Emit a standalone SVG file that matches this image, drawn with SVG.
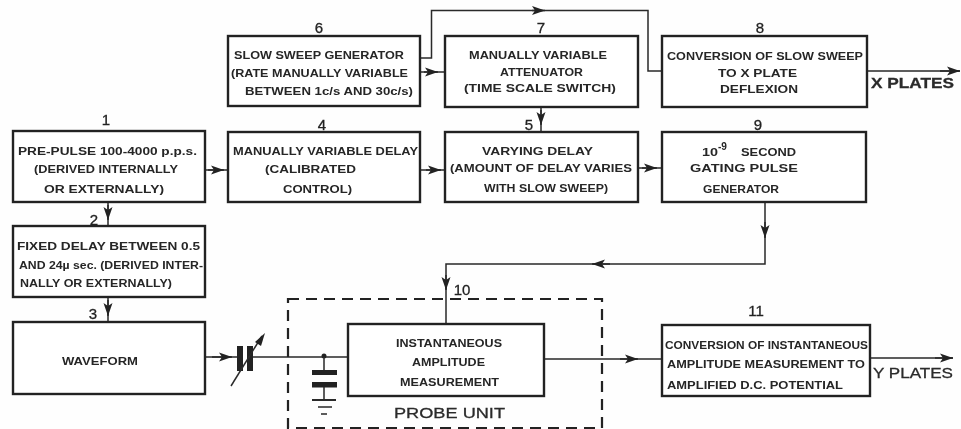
<svg xmlns="http://www.w3.org/2000/svg" width="961" height="429" viewBox="0 0 961 429">
<style>
.b{fill:#fff;stroke:#222;stroke-width:2.4}
.c{fill:none;stroke:#2a2a2a;stroke-width:1.5}
.a{marker-end:url(#ah)}
.t{font-family:"Liberation Sans",Arial,sans-serif;font-weight:700;font-size:11px;fill:#262626}
.n{font-family:"Liberation Sans",Arial,sans-serif;font-weight:400;font-size:15px;fill:#222;stroke:#222;stroke-width:.3;text-anchor:middle}
.l{font-family:"Liberation Sans",Arial,sans-serif;font-size:15.500px;fill:#2a2a2a;stroke:#2a2a2a;stroke-width:.3}
</style>
<defs>
<marker id="ah" markerUnits="userSpaceOnUse" markerWidth="15" markerHeight="10" refX="13" refY="5" orient="auto">
<path d="M0,0.5 L13,5 L0,9.5 L3,5 z" fill="#222"/>
</marker>
<filter id="scan" filterUnits="userSpaceOnUse" x="0" y="0" width="961" height="429"><feGaussianBlur stdDeviation="0.4"/></filter>
</defs>
<rect width="961" height="429" fill="#fefefe"/>
<g filter="url(#scan)">
<g id="connectors">
<path class="c" d="M420,58 H431.5 V10.500 H648 V71 H662"/><path class="c a" d="M532,10.500 H545"/>
<path class="c" d="M420,72 H445"/><path class="c a" d="M424,72 H438"/>
<path class="c" d="M205,170 H228"/><path class="c a" d="M208,170 H224"/>
<path class="c" d="M420,170 H445"/><path class="c a" d="M426,170 H441"/>
<path class="c" d="M638,168 H662"/><path class="c a" d="M642,168 H657"/>
<path class="c" d="M541,107 V132"/><path class="c a" d="M541,110 V125"/>
<path class="c" d="M108,202 V226"/><path class="c a" d="M108,205 V220"/>
<path class="c" d="M108,297 V322"/><path class="c a" d="M108,300 V316"/>
<path class="c" d="M867,71 H960"/><path class="c a" d="M940,71 H960"/>
<path class="c" d="M765,202 V264 H446 V324"/><path class="c a" d="M765,222 V238"/><path class="c a" d="M610,264 H592"/><path class="c a" d="M446,275 V290"/>
<path class="c" d="M205,357 H237"/><path class="c a" d="M212,357 H232"/>
<path class="c" d="M252,357 H348"/>
<path class="c" d="M544,359 H662"/><path class="c a" d="M620,359 H638"/>
<path class="c" d="M870,358 H953"/><path class="c a" d="M935,358 H953"/>
</g>
<g id="capacitor-variable">
<rect x="237" y="346" width="6" height="25" fill="#222"/>
<rect x="247" y="346" width="6" height="25" fill="#222"/>
<path class="c" d="M231,386 L262,336"/>
<path d="M265,333 L255,342 L261,346 z" fill="#222"/>
</g>
<g id="capacitor-ground">
<circle cx="324" cy="356" r="2.500" fill="#222"/>
<path class="c" d="M324,357 V372 M324,385 V400"/>
<rect x="312" y="370" width="25" height="5" fill="#222"/>
<rect x="312" y="382" width="25" height="5.500" fill="#222"/>
<path class="c" style="stroke-width:2" d="M312,400 H336"/>
<path class="c" d="M318,407 H332 M321,414 H327"/>
</g>
<g id="probe-unit">
<rect x="288" y="299" width="314" height="129" fill="none" stroke="#222" stroke-width="2.200" stroke-dasharray="11 7"/>
<text class="l" x="394" y="418" textLength="111" lengthAdjust="spacingAndGlyphs">PROBE UNIT</text>
</g>
<g id="node-1">
<rect class="b" x="13" y="131" width="192" height="71"/>
<text class="n" x="106" y="125">1</text>
<text class="t" x="18" y="155" textLength="179" lengthAdjust="spacingAndGlyphs">PRE-PULSE 100-4000 p.p.s.</text>
<text class="t" x="34" y="173" textLength="144" lengthAdjust="spacingAndGlyphs">(DERIVED INTERNALLY</text>
<text class="t" x="44" y="193" textLength="120" lengthAdjust="spacingAndGlyphs">OR EXTERNALLY)</text>
</g>
<g id="node-2">
<rect class="b" x="13" y="226" width="192" height="71"/>
<text class="n" x="94" y="225">2</text>
<text class="t" x="17" y="250" textLength="183" lengthAdjust="spacingAndGlyphs">FIXED DELAY BETWEEN 0.5</text>
<text class="t" x="19" y="269" textLength="184" lengthAdjust="spacingAndGlyphs">AND 24µ sec. (DERIVED INTER-</text>
<text class="t" x="20" y="287" textLength="152" lengthAdjust="spacingAndGlyphs">NALLY OR EXTERNALLY)</text>
</g>
<g id="node-3">
<rect class="b" x="13" y="322" width="192" height="72"/>
<text class="n" x="93" y="319">3</text>
<text class="t" x="62" y="365" textLength="76" lengthAdjust="spacingAndGlyphs">WAVEFORM</text>
</g>
<g id="node-4">
<rect class="b" x="228" y="132" width="192" height="70"/>
<text class="n" x="322" y="130">4</text>
<text class="t" x="233" y="155" textLength="185" lengthAdjust="spacingAndGlyphs">MANUALLY VARIABLE DELAY</text>
<text class="t" x="265" y="173" textLength="91" lengthAdjust="spacingAndGlyphs">(CALIBRATED</text>
<text class="t" x="283" y="193" textLength="69" lengthAdjust="spacingAndGlyphs">CONTROL)</text>
</g>
<g id="node-5">
<rect class="b" x="445" y="132" width="193" height="70"/>
<text class="n" x="529" y="130">5</text>
<text class="t" x="482" y="155" textLength="111" lengthAdjust="spacingAndGlyphs">VARYING DELAY</text>
<text class="t" x="450" y="172" textLength="182" lengthAdjust="spacingAndGlyphs">(AMOUNT OF DELAY VARIES</text>
<text class="t" x="484" y="192" textLength="124" lengthAdjust="spacingAndGlyphs">WITH SLOW SWEEP)</text>
</g>
<g id="node-6">
<rect class="b" x="228" y="36" width="192" height="70"/>
<text class="n" x="319" y="33">6</text>
<text class="t" x="234" y="59" textLength="170" lengthAdjust="spacingAndGlyphs">SLOW SWEEP GENERATOR</text>
<text class="t" x="231" y="77" textLength="177" lengthAdjust="spacingAndGlyphs">(RATE MANUALLY VARIABLE</text>
<text class="t" x="245" y="95" textLength="168" lengthAdjust="spacingAndGlyphs">BETWEEN 1c/s AND 30c/s)</text>
</g>
<g id="node-7">
<rect class="b" x="445" y="36" width="193" height="71"/>
<text class="n" x="541" y="33">7</text>
<text class="t" x="469" y="59" textLength="138" lengthAdjust="spacingAndGlyphs">MANUALLY VARIABLE</text>
<text class="t" x="500" y="76" textLength="83" lengthAdjust="spacingAndGlyphs">ATTENUATOR</text>
<text class="t" x="464" y="92" textLength="152" lengthAdjust="spacingAndGlyphs">(TIME SCALE SWITCH)</text>
</g>
<g id="node-8">
<rect class="b" x="662" y="36" width="205" height="71"/>
<text class="n" x="760" y="33">8</text>
<text class="t" x="667" y="60" textLength="196" lengthAdjust="spacingAndGlyphs">CONVERSION OF SLOW SWEEP</text>
<text class="t" x="718" y="77" textLength="79" lengthAdjust="spacingAndGlyphs">TO X PLATE</text>
<text class="t" x="720" y="93" textLength="78" lengthAdjust="spacingAndGlyphs">DEFLEXION</text>
</g>
<g id="node-9">
<rect class="b" x="662" y="132" width="204" height="70"/>
<text class="n" x="758" y="130">9</text>
<text class="t" x="702" y="156" textLength="16" lengthAdjust="spacingAndGlyphs">10</text>
<text class="t" x="718" y="150" textLength="9" lengthAdjust="spacingAndGlyphs">-9</text>
<text class="t" x="741" y="156" textLength="55" lengthAdjust="spacingAndGlyphs">SECOND</text>
<text class="t" x="690" y="172" textLength="108" lengthAdjust="spacingAndGlyphs">GATING PULSE</text>
<text class="t" x="703" y="193" textLength="76" lengthAdjust="spacingAndGlyphs">GENERATOR</text>
</g>
<g id="node-10">
<rect class="b" x="348" y="324" width="196" height="72"/>
<text class="n" x="462" y="295">10</text>
<text class="t" x="396" y="347" textLength="106" lengthAdjust="spacingAndGlyphs">INSTANTANEOUS</text>
<text class="t" x="412" y="366" textLength="73" lengthAdjust="spacingAndGlyphs">AMPLITUDE</text>
<text class="t" x="400" y="386" textLength="99" lengthAdjust="spacingAndGlyphs">MEASUREMENT</text>
</g>
<g id="node-11">
<rect class="b" x="662" y="325" width="208" height="71"/>
<text class="n" x="756" y="316">11</text>
<text class="t" x="665" y="349" textLength="203" lengthAdjust="spacingAndGlyphs">CONVERSION OF INSTANTANEOUS</text>
<text class="t" x="667" y="368" textLength="198" lengthAdjust="spacingAndGlyphs">AMPLITUDE MEASUREMENT TO</text>
<text class="t" x="667" y="389" textLength="176" lengthAdjust="spacingAndGlyphs">AMPLIFIED D.C. POTENTIAL</text>
</g>
<g id="outputs">
<text class="l" x="871" y="88" textLength="83" lengthAdjust="spacingAndGlyphs" style="font-weight:700">X PLATES</text>
<text class="l" x="873" y="378" textLength="80" lengthAdjust="spacingAndGlyphs">Y PLATES</text>
</g>
</g>
</svg>
